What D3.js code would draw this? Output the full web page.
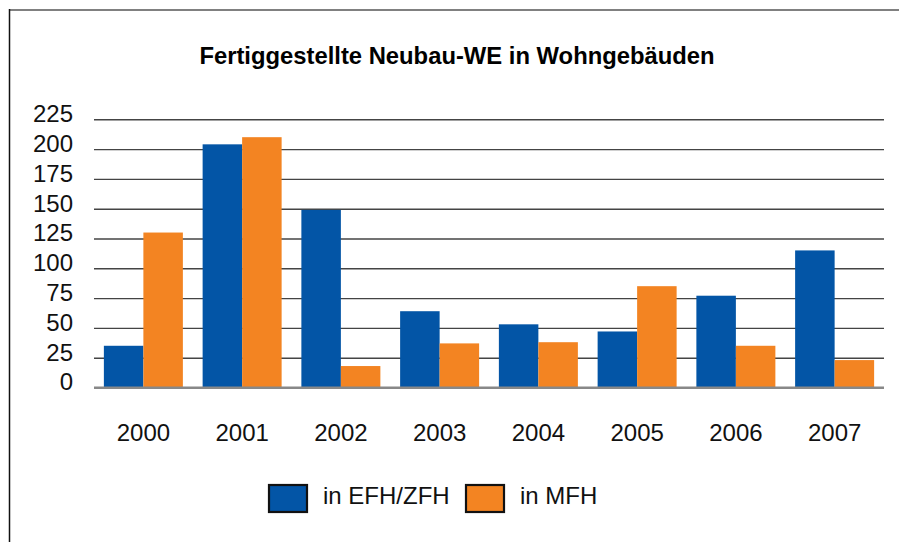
<!DOCTYPE html>
<html><head><meta charset="utf-8">
<script src="https://cdn.jsdelivr.net/npm/d3@7"></script>
<style>html,body{margin:0;padding:0;background:#fff;}svg{display:block;}</style>
</head><body>
<script>
const years = ["2000","2001","2002","2003","2004","2005","2006","2007"];
const efhZfh = [35, 204, 149, 64, 53, 47, 77, 115];
const mfh = [130, 210, 18, 37, 38, 85, 35, 23];
const seriesNames = ["in EFH/ZFH", "in MFH"];
const seriesColors = ["#0355a6", "#f38422"];
const yTicks = [0, 25, 50, 75, 100, 125, 150, 175, 200, 225];
const title = "Fertiggestellte Neubau-WE in Wohngebäuden";

const W = 899, H = 542;
const font = "'Liberation Sans', Arial, Helvetica, sans-serif";
const svg = d3.select("body").append("svg").attr("width", W).attr("height", H);

// frame
svg.append("line").attr("x1", 9).attr("x2", W).attr("y1", 10).attr("y2", 10)
  .attr("stroke", "#808080").attr("stroke-width", 2);
svg.append("line").attr("x1", 9.5).attr("x2", 9.5).attr("y1", 9).attr("y2", H)
  .attr("stroke", "#111").attr("stroke-width", 1.5);

// title
svg.append("text").attr("x", 457).attr("y", 64.3).attr("text-anchor", "middle")
  .attr("font-family", font).attr("font-weight", "bold").attr("font-size", 23.8)
  .attr("fill", "#000").text(title);

const x0 = d3.scaleBand().domain(years).range([94, 884]).paddingInner(0.2).paddingOuter(0.1);
const x1 = d3.scaleBand().domain([0, 1]).range([0, x0.bandwidth()]);
const y = d3.scaleLinear().domain([0, 225]).range([387.5, 119.3]);

// grid
const yAxis = svg.append("g").attr("transform", "translate(94,0)")
  .call(d3.axisLeft(y).tickValues(yTicks).tickSize(-790).tickPadding(21));
yAxis.select(".domain").remove();
yAxis.selectAll(".tick line").attr("stroke", d => d === 0 ? "#888" : "#444")
  .attr("stroke-width", d => d === 0 ? 1.8 : 1.4);
yAxis.selectAll(".tick text").attr("font-family", font).attr("font-size", 24)
  .attr("fill", "#111").attr("dy", "0.1em");

// bars
const data = years.map((yr, i) => ({ yr, vals: [efhZfh[i], mfh[i]] }));
const groups = svg.append("g").selectAll("g").data(data).join("g")
  .attr("transform", d => `translate(${x0(d.yr)},0)`);
groups.selectAll("rect").data(d => d.vals.map((v, k) => ({ v, k }))).join("rect")
  .attr("x", d => x1(d.k)).attr("width", x1.bandwidth())
  .attr("y", d => y(d.v)).attr("height", d => y(0) - y(d.v))
  .attr("fill", d => seriesColors[d.k]);

// baseline on top
svg.append("line").attr("x1", 94).attr("x2", 884).attr("y1", y(0)).attr("y2", y(0))
  .attr("stroke", "#888").attr("stroke-width", 1.8);

// x labels
const xAxis = svg.append("g").attr("transform", `translate(0,${y(0)})`)
  .call(d3.axisBottom(x0).tickSize(0).tickPadding(36));
xAxis.select(".domain").remove();
xAxis.selectAll(".tick text").attr("font-family", font).attr("font-size", 24).attr("fill", "#111");

// legend
const legend = [{x: 268, tx: 323}, {x: 465, tx: 520}];
legend.forEach((l, k) => {
  svg.append("rect").attr("x", l.x + 1).attr("y", 485).attr("width", 38).attr("height", 27)
    .attr("fill", seriesColors[k]).attr("stroke", "#111").attr("stroke-width", 2.2);
  svg.append("text").attr("x", l.tx).attr("y", 504).attr("font-family", font)
    .attr("font-size", 24).attr("fill", "#111").text(seriesNames[k]);
});
</script>
</body></html>
